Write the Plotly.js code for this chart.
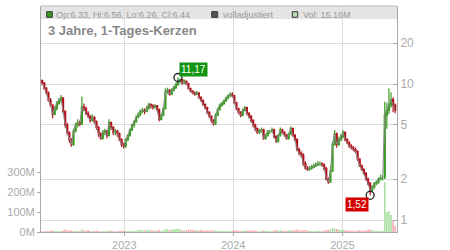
<!DOCTYPE html>
<html><head><meta charset="utf-8">
<script src="https://cdn.plot.ly/plotly-3.0.1.min.js"></script>
<style>html,body{margin:0;padding:0;background:#fff}#c{width:450px;height:250px}</style>
</head><body><div id="c"></div>
<script>
// weekly candles, first week ending 2022-04-01
const weekStart = '2022-04-01';
const openP = [10.6,10.2,9.3,8.6,7.6,7.0,6.0,6.6,7.2,7.6,7.9,6.3,5.0,4.4,3.9,3.6,4.5,5.0,5.2,5.1,
6.8,6.6,6.1,5.8,5.4,5.7,5.3,4.8,4.3,4.0,4.4,4.5,4.2,5.2,4.8,4.4,4.5,4.3,3.9,3.6,
3.5,3.9,4.2,4.6,5.0,5.3,5.7,6.0,6.3,6.4,6.3,6.6,7.1,6.9,6.7,6.9,6.5,5.5,5.9,6.6,
8.8,9.0,8.4,9.0,9.4,9.9,10.6,10.8,10.2,10.5,10.1,9.3,8.9,8.6,8.4,8.6,8.0,7.6,7.1,6.7,
6.2,5.8,5.4,5.1,5.9,6.5,7.0,7.2,7.5,7.9,8.2,8.4,8.2,7.3,6.6,6.2,5.9,6.4,6.7,6.1,
5.8,5.4,5.0,4.7,4.4,4.5,4.6,4.0,4.2,4.5,4.5,4.6,4.1,3.8,4.2,4.6,4.4,4.2,4.0,4.3,
4.7,4.2,3.9,3.3,3.1,3.0,2.6,2.4,2.35,2.4,2.45,2.5,2.55,2.6,2.6,2.55,2.4,2.0,1.9,2.3,
3.6,4.3,3.6,3.9,4.1,4.4,3.9,3.7,3.5,3.4,3.3,3.2,2.8,2.5,2.35,2.2,2.0,1.85,1.65,1.75,
1.85,1.9,2.0,2.05,2.05,5.9,6.4,7.0,7.7,7.0];
const highP = [10.8,10.3,9.5,8.8,7.9,7.1,6.9,7.5,7.9,8.3,8.0,6.4,5.2,4.5,4.0,4.7,5.2,5.5,5.4,8.1,
7.2,6.8,6.3,5.9,6.0,5.8,5.4,4.9,4.4,4.6,4.7,4.6,5.5,5.3,4.9,4.7,4.6,4.4,4.0,3.7,
4.0,4.3,4.7,5.1,5.4,5.9,6.2,6.5,6.7,6.6,6.9,7.3,7.2,7.1,7.1,7.0,6.6,6.1,6.8,9.3,
9.4,9.2,9.3,9.7,10.2,11.17,11.0,10.9,10.8,10.6,10.2,9.4,9.0,8.8,8.9,8.7,8.1,7.7,7.2,6.8,
6.3,5.9,5.5,6.1,6.7,7.2,7.4,7.7,8.1,8.4,8.7,8.7,8.3,7.4,6.7,6.3,6.6,6.9,6.8,6.2,
5.9,5.5,5.1,4.8,4.7,4.8,4.7,4.3,4.6,4.6,4.8,4.7,4.2,4.3,4.8,4.7,4.5,4.3,4.4,4.9,
4.8,4.3,4.0,3.4,3.2,3.1,2.7,2.5,2.5,2.55,2.6,2.65,2.7,2.7,2.65,2.6,2.45,2.05,2.5,3.8,
4.6,4.4,4.1,4.3,4.6,4.5,4.0,3.8,3.6,3.5,3.4,3.25,2.85,2.55,2.4,2.25,2.05,1.9,1.8,1.9,
1.95,2.05,2.15,2.12,7.4,7.3,9.3,8.7,8.0,7.2];
const lowP = [9.9,9.1,8.4,7.4,6.8,5.6,5.9,6.4,7.0,7.3,6.1,4.8,4.2,3.7,3.46,3.5,4.4,4.8,4.9,5.0,
6.3,5.9,5.6,5.2,5.3,5.1,4.6,4.1,3.9,3.9,4.2,4.0,4.1,4.6,4.2,4.2,4.1,3.8,3.45,3.35,
3.4,3.8,4.1,4.5,4.8,5.2,5.6,5.8,6.1,6.0,6.2,6.5,6.6,6.5,6.6,6.3,5.3,5.4,5.8,6.5,
8.5,8.2,8.3,8.8,9.2,9.7,10.1,9.9,10.0,9.8,9.1,8.7,8.4,8.2,8.3,7.8,7.4,6.9,6.5,6.0,
5.6,5.2,4.95,5.0,5.8,6.4,6.8,7.0,7.4,7.7,8.0,8.0,7.1,6.4,6.0,5.7,5.8,6.3,5.9,5.6,
5.2,4.8,4.5,4.3,4.3,4.4,3.9,3.9,4.1,4.3,4.4,4.0,3.7,3.7,4.1,4.3,4.1,3.9,3.9,4.2,
4.1,3.8,3.2,3.0,2.9,2.5,2.35,2.3,2.3,2.35,2.4,2.45,2.5,2.5,2.45,2.3,1.95,1.85,1.88,2.25,
3.5,3.4,3.5,3.8,4.0,3.8,3.6,3.4,3.3,3.2,3.1,2.7,2.45,2.3,2.15,1.95,1.8,1.52,1.6,1.7,
1.8,1.85,1.95,1.95,2.0,4.7,6.0,6.7,6.2,6.1];
const closeP = [10.2,9.3,8.6,7.6,7.0,6.0,6.6,7.2,7.6,7.9,6.3,5.0,4.4,3.9,3.6,4.5,5.0,5.2,5.1,6.8,
6.6,6.1,5.8,5.4,5.7,5.3,4.8,4.3,4.0,4.4,4.5,4.2,5.2,4.8,4.4,4.5,4.3,3.9,3.6,3.5,
3.9,4.2,4.6,5.0,5.3,5.7,6.0,6.3,6.4,6.3,6.6,7.1,6.9,6.7,6.9,6.5,5.5,5.9,6.6,8.8,
9.0,8.4,9.0,9.4,9.9,10.6,10.8,10.2,10.5,10.1,9.3,8.9,8.6,8.4,8.6,8.0,7.6,7.1,6.7,6.2,
5.8,5.4,5.1,5.9,6.5,7.0,7.2,7.5,7.9,8.2,8.4,8.2,7.3,6.6,6.2,5.9,6.4,6.7,6.1,5.8,
5.4,5.0,4.7,4.4,4.5,4.6,4.0,4.2,4.5,4.5,4.6,4.1,3.8,4.2,4.6,4.4,4.2,4.0,4.3,4.7,
4.2,3.9,3.3,3.1,3.0,2.6,2.4,2.35,2.4,2.45,2.5,2.55,2.6,2.6,2.55,2.4,2.0,1.9,2.3,3.6,
4.3,3.6,3.9,4.1,4.4,3.9,3.7,3.5,3.4,3.3,3.2,2.8,2.5,2.35,2.2,2.0,1.85,1.65,1.75,1.85,
1.9,2.0,2.05,2.05,5.9,6.4,7.0,7.7,7.0,6.44];
// volume, millions
const volM = [4,3,5,4,6,8,5,4,5,4,7,12,9,6,8,6,5,4,5,14,
8,6,10,5,4,5,6,4,3,5,4,4,9,6,4,3,4,5,6,8,
5,4,5,6,5,7,10,11,9,8,10,12,8,7,6,7,9,6,8,16,
14,10,12,13,15,18,12,9,8,9,11,12,10,8,9,8,10,7,6,8,
9,8,7,10,6,5,5,6,4,5,6,7,8,9,6,5,7,6,8,6,
7,6,8,5,4,6,9,6,5,4,5,8,9,7,10,6,5,6,8,10,
7,9,12,8,7,9,10,6,5,5,4,5,6,5,4,6,9,12,14,20,
18,15,12,10,11,9,8,7,6,6,5,8,9,7,6,8,10,12,9,7,
6,5,6,7,250,100,105,85,55,30];
const yearTicks = ['2023-01-01','2024-01-01','2025-01-01'];
const yearLabels = ['2023','2024','2025'];
const priceTicks = [1,2,5,10,20];
const volTicks = [0,100,200,300];
const volLabels = ['0M','100M','200M','300M'];
const hiLabel = '11,17', loLabel = '1,52';
const legendText = ['Op:6.33, Hi:6.56, Lo:6.26, Cl:6.44','volladjustiert','Vol: 15.16M'];
const chartTitle = '3 Jahre, 1-Tages-Kerzen';

const GREEN='#3b9c22', RED='#b3121c';
const dates = closeP.map((_,i)=>{const d=new Date(weekStart+'T00:00:00Z'); d.setUTCDate(d.getUTCDate()+7*i); return d.toISOString().slice(0,10);});
const volColors = closeP.map((c,i)=> c>=openP[i] ? '#ade0a6' : '#f5aab3');
let hiIdx=0, loIdx=0;
highP.forEach((v,i)=>{if(v>highP[hiIdx])hiIdx=i;});
lowP.forEach((v,i)=>{if(v<lowP[loIdx])loIdx=i;});

const traces = [
 {type:'bar', x:dates, y:volM, marker:{color:volColors, line:{width:0}}, yaxis:'y', hoverinfo:'skip'},
 {type:'scatter', mode:'lines', x:dates, y:closeP, line:{color:'#888', width:1}, yaxis:'y2', hoverinfo:'skip'},
 {type:'candlestick', x:dates, open:openP, high:highP, low:lowP, close:closeP, yaxis:'y2', whiskerwidth:0,
  increasing:{line:{color:GREEN,width:1.2}, fillcolor:GREEN}, decreasing:{line:{color:RED,width:1.2}, fillcolor:RED}, hoverinfo:'skip'},
 {type:'scatter', mode:'markers', x:[dates[hiIdx],dates[loIdx]], y:[highP[hiIdx],lowP[loIdx]], yaxis:'y2',
  marker:{symbol:'circle-open', size:8, color:'#222', line:{width:1.3}}, hoverinfo:'skip'}
];
const px = v => (v-41)/356, py = v => (232-v)/226;
const font = 'Liberation Sans, Arial, sans-serif';
const layout = {
 width:450, height:250, margin:{l:41,r:53,t:6,b:18},
 paper_bgcolor:'#fff', plot_bgcolor:'#fff', showlegend:false,
 font:{family:font, color:'#aaa', size:11},
 xaxis:{type:'date', range:['2022-03-28','2025-07-03'], rangeslider:{visible:false},
  tickvals:yearTicks, ticktext:yearLabels, showgrid:true, gridcolor:'#dcdcdc', gridwidth:1,
  ticks:'outside', ticklen:3, tickcolor:'#aaa', showline:true, linecolor:'#aaa', zeroline:false,
  tickfont:{size:11,color:'#aaa'}},
 yaxis:{range:[0,1130], side:'left', tickvals:volTicks, ticktext:volLabels, ticks:'outside', ticklen:3,
  tickcolor:'#aaa', showgrid:false, zeroline:false, showline:true, linecolor:'#aaa', tickfont:{size:11,color:'#aaa'}},
 yaxis2:{overlaying:'y', side:'right', type:'log', range:[-0.0882,1.574], tickvals:priceTicks,
  ticks:'inside', ticklen:4, tickcolor:'#aaa', showgrid:true, gridcolor:'#dcdcdc', showline:true, linecolor:'#aaa',
  zeroline:false, tickfont:{size:12,color:'#aaa'}},
 shapes:[
  {type:'rect', xref:'paper', yref:'paper', x0:0, x1:1, y0:py(19), y1:1, fillcolor:'#e4e4e4', line:{width:0}, layer:'below'},
  {type:'line', xref:'paper', yref:'paper', x0:0, x1:1, y0:1, y1:1, line:{color:'#bbb', width:1}},
  {type:'rect', xref:'paper', yref:'paper', x0:px(46.7), x1:px(52.3), y0:py(17.3), y1:py(11.7), fillcolor:GREEN, line:{color:'#333',width:1}},
  {type:'rect', xref:'paper', yref:'paper', x0:px(211.7), x1:px(217.7), y0:py(17.3), y1:py(11.7), fillcolor:'#555', line:{color:'#333',width:1}},
  {type:'rect', xref:'paper', yref:'paper', x0:px(292.3), x1:px(297.7), y0:py(17.3), y1:py(11.7), fillcolor:'#b5e0ae', line:{color:'#333',width:1}}
 ],
 annotations:[
  {xref:'paper', yref:'paper', x:px(53.5), y:py(14.8), xanchor:'left', yanchor:'middle', text:legendText[0], showarrow:false, font:{size:9,color:'#999'}},
  {xref:'paper', yref:'paper', x:px(220.5), y:py(14.8), xanchor:'left', yanchor:'middle', text:legendText[1], showarrow:false, font:{size:9,color:'#999'}},
  {xref:'paper', yref:'paper', x:px(301), y:py(14.8), xanchor:'left', yanchor:'middle', text:legendText[2], showarrow:false, font:{size:9,color:'#999'}},
  {xref:'paper', yref:'paper', x:px(46), y:py(30), xanchor:'left', yanchor:'middle', text:'<b>'+chartTitle+'</b>', showarrow:false, font:{size:13,color:'#888'}},
  {xref:'x', yref:'y2', x:dates[hiIdx], y:Math.log10(highP[hiIdx]), text:hiLabel, showarrow:true, arrowcolor:'rgba(0,0,0,0)', ax:16, ay:-8.5,
   bgcolor:'#149614', font:{size:10,color:'#fff'}, borderpad:1},
  {xref:'x', yref:'y2', x:dates[loIdx], y:Math.log10(lowP[loIdx]), text:loLabel, showarrow:true, arrowcolor:'rgba(0,0,0,0)', ax:-13.5, ay:9,
   bgcolor:'#d40000', font:{size:10,color:'#fff'}, borderpad:1}
 ]
};
Plotly.newPlot('c', traces, layout, {staticPlot:true, displayModeBar:false});
</script></body></html>
